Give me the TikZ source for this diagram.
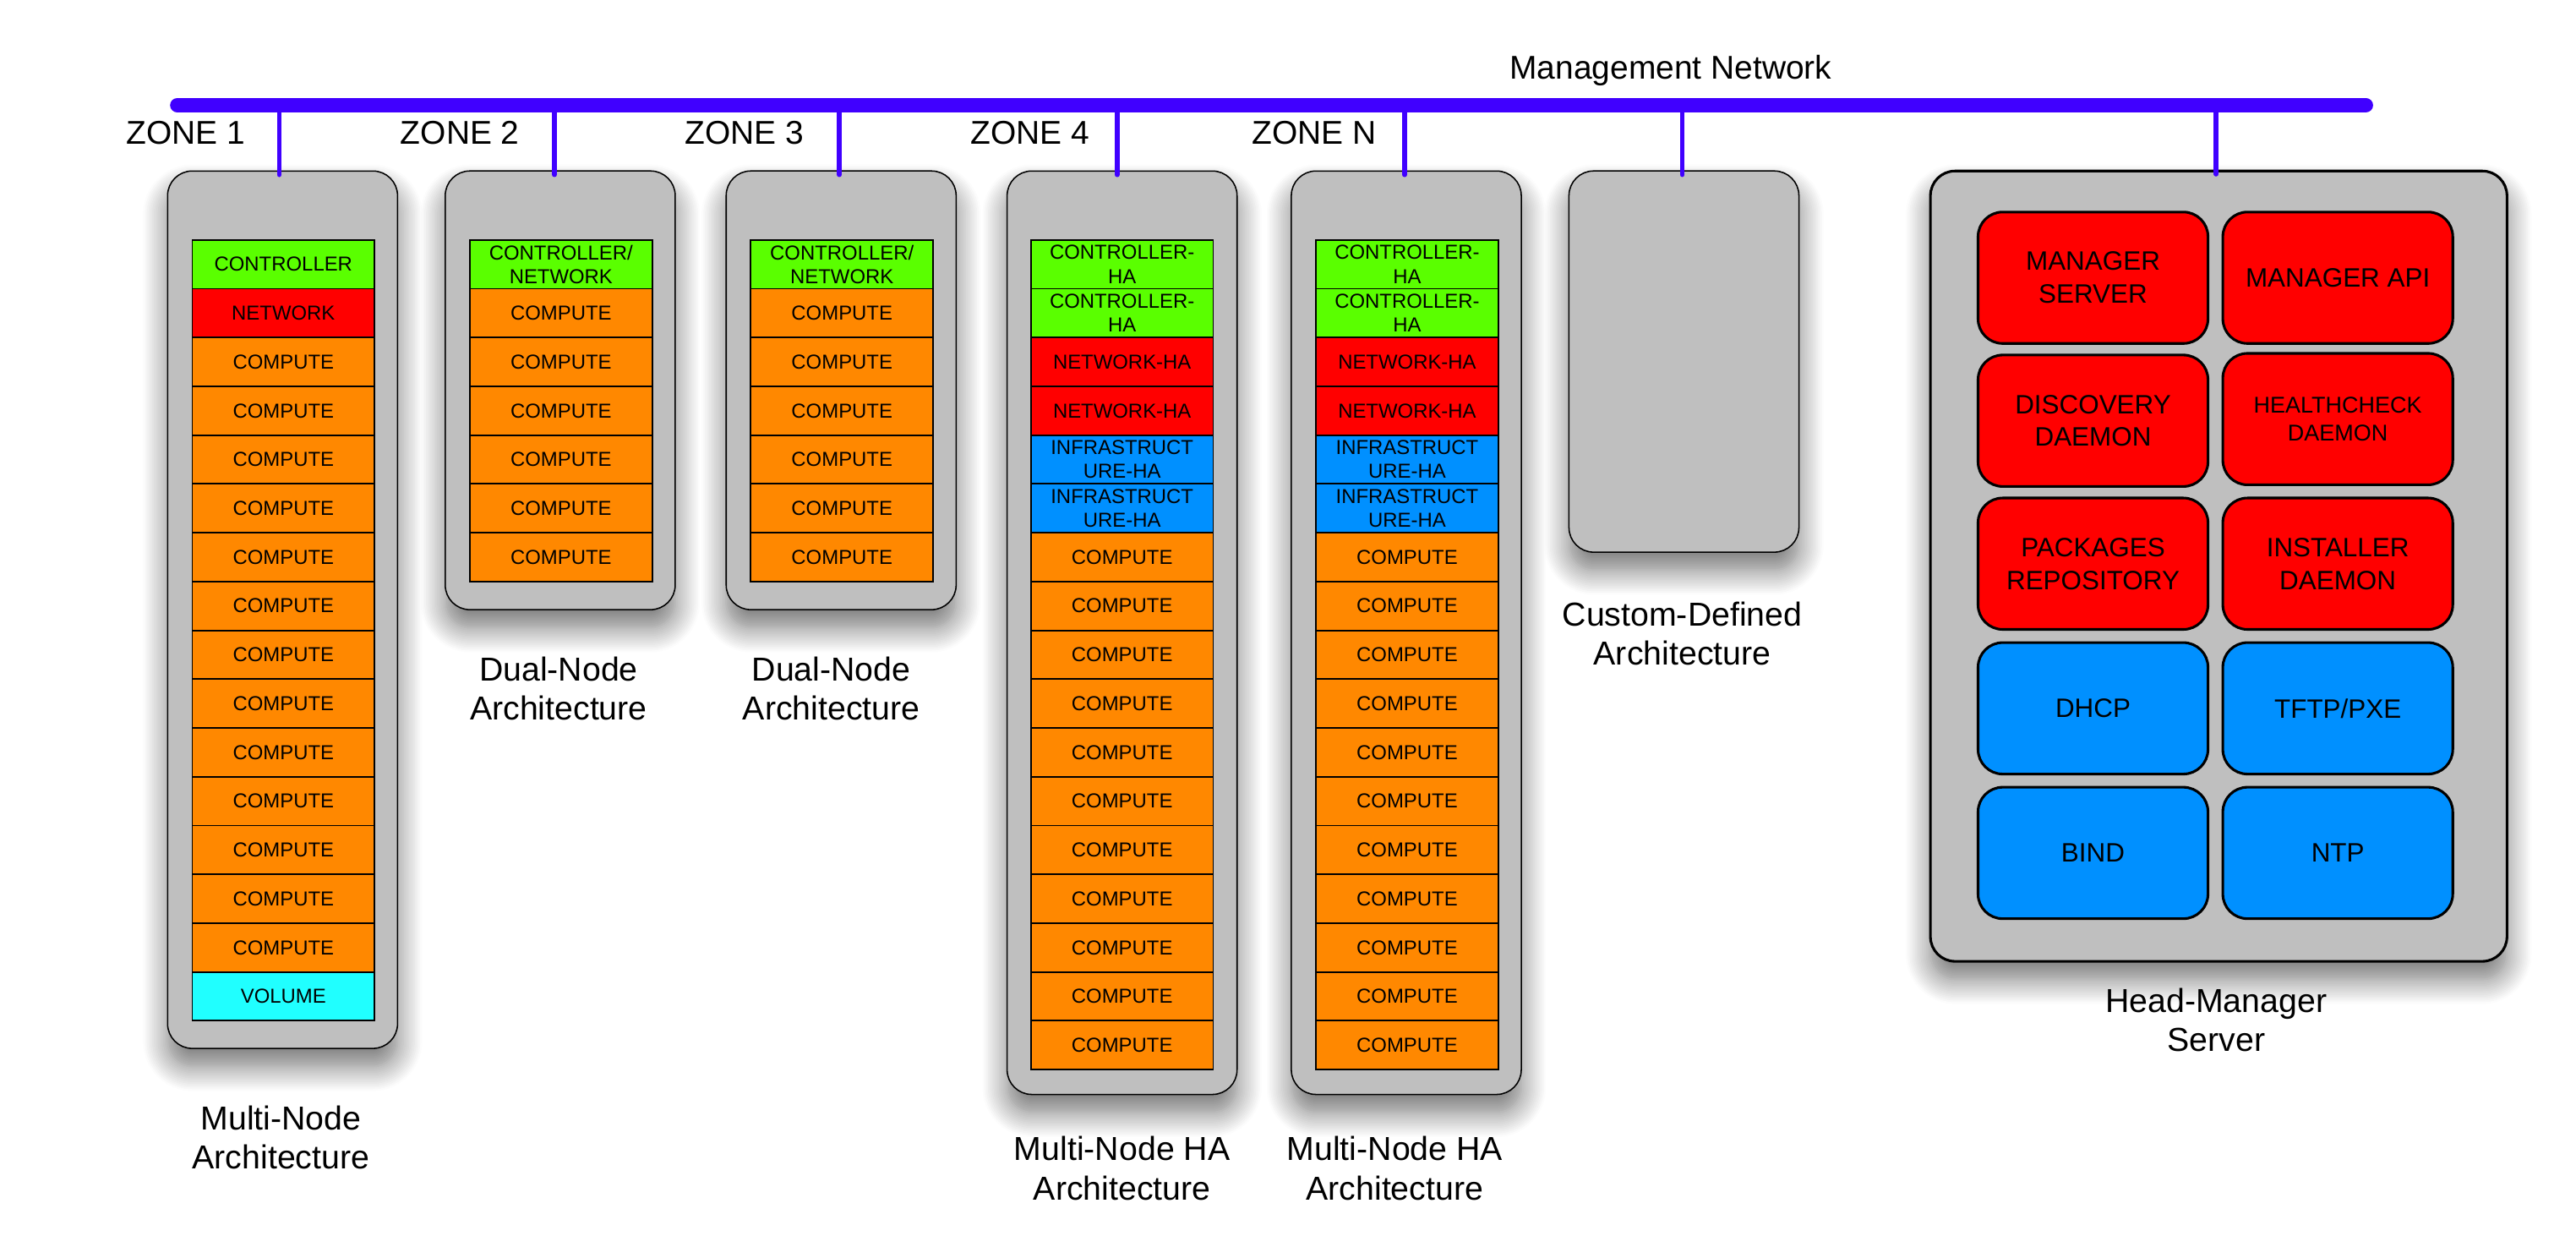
\documentclass[tikz,border=0pt]{standalone}
\usepackage{fontspec}
\setmainfont{Liberation Sans}
\usetikzlibrary{positioning,shadows.blur}

\definecolor{netblue}{HTML}{4000FF}
\definecolor{rackgray}{HTML}{BFBFBF}
\definecolor{ctlgreen}{HTML}{5AFF00}
\definecolor{netred}{HTML}{FF0000}
\definecolor{cmporange}{HTML}{FF8800}
\definecolor{infblue}{HTML}{0090FF}
\definecolor{volcyan}{HTML}{20FFFF}

\begin{document}
\begin{tikzpicture}[x=0.02cm,y=-0.02cm,
  rack/.style={draw,fill=rackgray,line width=0.45pt,rounded corners=0.3cm,inner sep=0pt,
    blur shadow={shadow xshift=0pt,shadow yshift=-0.22cm,shadow blur radius=0.3cm,
      shadow opacity=55,shadow blur steps=14}},
  role/.style={draw,line width=0.55pt,outer sep=0pt,minimum width=2.22cm,minimum height=0.594cm,
    inner sep=0pt,align=center,font=\fontsize{7}{8.3}\selectfont},
  svc/.style={draw,line width=0.9pt,rounded corners=0.3cm,minimum width=2.8cm,minimum height=1.6cm,
    inner sep=0pt,align=center,font=\fontsize{9.2}{11.4}\selectfont},
  zone/.style={font=\fontsize{11.4}{13}\selectfont},
  arch/.style={align=center,font=\fontsize{11.5}{13.6}\selectfont},
  drop/.style={netblue,line width=1.7pt,line cap=round}]

\useasboundingbox (0,0) rectangle (1568,765);

% management network
\coordinate (busL) at (108,64);
\coordinate (busR) at (1440,64);
\draw[netblue,line width=5.1pt,line cap=round] (busL) -- (busR);
\node[zone] (mgmt) at (1017,43) {Management Network};

\foreach \t/\x in {1/113,2/280,3/453,4/627,N/800}
  \node[zone] (zl-\t) at (\x,81) {ZONE \t};

% racks
\node[rack,minimum width=2.8cm,minimum height=10.68cm] (z1) at (172,371) {};
\node[rack,minimum width=2.8cm,minimum height=5.34cm] (z2) at (341,237.5) {};
\node[rack,minimum width=2.8cm,minimum height=5.34cm] (z3) at (512,237.5) {};
\node[rack,minimum width=2.8cm,minimum height=11.24cm] (z4) at (683,385) {};
\node[rack,minimum width=2.8cm,minimum height=11.24cm] (zn) at (856,385) {};
\node[rack,minimum width=2.8cm,minimum height=4.64cm] (zc) at (1025,220) {};
\node[rack,minimum width=7.02cm,minimum height=9.62cm,line width=0.9pt] (hm) at (1350.5,344.5) {};

\foreach \b/\dx in {z1/-2,z2/-3.5,z3/-1,z4/-3,zn/-1,zc/-1,hm/-1.5}
  \draw[drop] ([shift={(\dx,-1.5pt)}]\b.north) -- ([xshift=\dx*0.02cm]\b.north |- busL);

% zone 1
\node[role,fill=ctlgreen] (z1-1) at (172.5,160.85) {CONTROLLER};
\node[role,fill=netred,below=0pt of z1-1] (z1-2) {NETWORK};
\foreach \i [remember=\i as \j (initially 2)] in {3,...,15}
  \node[role,fill=cmporange,below=0pt of z1-\j] (z1-\i) {COMPUTE};
\node[role,fill=volcyan,below=0pt of z1-15] (z1-16) {VOLUME};

% zones 2 and 3
\foreach \z/\x in {z2/341.5,z3/512.5}{
  \node[role,fill=ctlgreen] (\z-1) at (\x,160.85) {CONTROLLER/\\NETWORK};
  \foreach \i [remember=\i as \j (initially 1)] in {2,...,7}
    \node[role,fill=cmporange,below=0pt of \z-\j] (\z-\i) {COMPUTE};
}

% zones 4 and N
\foreach \z/\x in {z4/683,zn/856.5}{
  \node[role,fill=ctlgreen] (\z-1) at (\x,160.85) {CONTROLLER-\\HA};
  \node[role,fill=ctlgreen,below=0pt of \z-1] (\z-2) {CONTROLLER-\\HA};
  \node[role,fill=netred,below=0pt of \z-2] (\z-3) {NETWORK-HA};
  \node[role,fill=netred,below=0pt of \z-3] (\z-4) {NETWORK-HA};
  \node[role,fill=infblue,below=0pt of \z-4] (\z-5) {INFRASTRUCT\\URE-HA};
  \node[role,fill=infblue,below=0pt of \z-5] (\z-6) {INFRASTRUCT\\URE-HA};
  \foreach \i [remember=\i as \j (initially 6)] in {7,...,17}
    \node[role,fill=cmporange,below=0pt of \z-\j] (\z-\i) {COMPUTE};
}

% head manager services
\node[svc,fill=netred] (mgrsrv) at (1274,169) {MANAGER\\SERVER};
\node[svc,fill=netred] (mgrapi) at (1423,169) {MANAGER API};
\node[svc,fill=netred] (disc) at (1274,256) {DISCOVERY\\DAEMON};
\node[svc,fill=netred,font=\fontsize{7.9}{9.6}\selectfont] (hcheck) at (1423,255) {HEALTHCHECK\\DAEMON};
\node[svc,fill=netred] (pkgs) at (1274,343) {PACKAGES\\REPOSITORY};
\node[svc,fill=netred] (inst) at (1423,343) {INSTALLER\\DAEMON};
\node[svc,fill=infblue] (dhcp) at (1274,431) {DHCP};
\node[svc,fill=infblue] (tftp) at (1423,431) {TFTP/PXE};
\node[svc,fill=infblue] (bind) at (1274,519) {BIND};
\node[svc,fill=infblue] (ntp) at (1423,519) {NTP};

% captions
\node[arch] (a1) at (171,692) {Multi-Node\\Architecture};
\node[arch] (a2) at (340,419) {Dual-Node\\Architecture};
\node[arch] (a3) at (506,419) {Dual-Node\\Architecture};
\node[arch] (a4) at (683,711) {Multi-Node HA\\Architecture};
\node[arch] (an) at (849,711) {Multi-Node HA\\Architecture};
\node[arch] (ac) at (1024,385.5) {Custom-Defined\\Architecture};
\node[arch] (ah) at (1349,620.5) {Head-Manager\\Server};

\end{tikzpicture}
\end{document}
